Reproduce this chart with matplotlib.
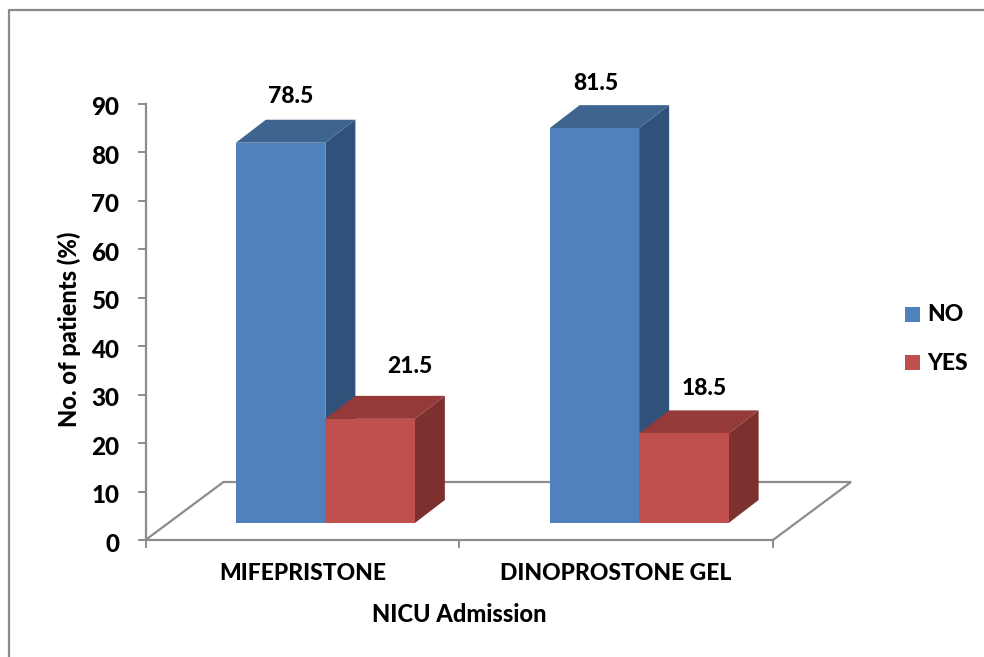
import matplotlib
matplotlib.use('Agg')
from matplotlib import pyplot as plt
from matplotlib.patches import Polygon, Rectangle
from matplotlib.lines import Line2D
from matplotlib.transforms import ScaledTranslation

plt.rcParams['font.family'] = ['Lato', 'DejaVu Sans']
plt.rcParams['font.weight'] = 900

categories = ['MIFEPRISTONE', 'DINOPROSTONE GEL']
no_values = [78.5, 81.5]
yes_values = [21.5, 18.5]
y_ticks = [0, 10, 20, 30, 40, 50, 60, 70, 80, 90]

W, H = 984, 657
AXIS_GREY = '#8c8c8c'

fig = plt.figure(figsize=(W / 100, H / 100), dpi=100, facecolor='white')

# plot area in pixels: x 145-773, y 104-540
left, right, top, bottom = 145.5, 773, 104, 540
ax = fig.add_axes([left / W, 1 - bottom / H, (right - left) / W, (bottom - top) / H])
ax.set_xlim(0, len(categories))
ax.set_ylim(0, 90)
ax.patch.set_alpha(0)

px_x = len(categories) / (right - left)  # data units per pixel
px_y = 90 / (bottom - top)

# oblique depth of the fake 3D box, and where bars sit on the floor
depth_x, depth_y = 30 * px_x, 23 * px_y
floor_x, floor_y = 78 * px_x, 58 * px_y
base_x, base_y = 23 * px_x, 17 * px_y
bar_w = 89.5 * px_x

# label shifts from the middle of each bar's front face, pixels
no_label_dx = [10, 1]
no_label_dy = [46, 45]
yes_label_dx = [39.5, 20.5]
yes_label_dy = [52, 45]


def draw_box(x0, value, front, top_face, side, z):
    # front, roof and side of one bar
    y0 = base_y
    y1 = base_y + value
    x1 = x0 + bar_w
    ax.add_patch(Polygon([(x1, y0), (x1 + depth_x, y0 + depth_y), (x1 + depth_x, y1 + depth_y), (x1, y1)],
                         closed=True, fc=side, ec='none', clip_on=False, zorder=z))
    ax.add_patch(Polygon([(x0, y1), (x0 + depth_x, y1 + depth_y), (x1 + depth_x, y1 + depth_y), (x1, y1)],
                         closed=True, fc=top_face, ec='none', clip_on=False, zorder=z))
    ax.add_patch(Rectangle((x0, y0), bar_w, value, fc=front, ec='none', clip_on=False, zorder=z + 0.5))


# floor of the box
ax.plot([0, floor_x, 2 + floor_x, 2], [0, floor_y, floor_y, 0], color=AXIS_GREY, lw=1.6,
        clip_on=False, zorder=1, solid_joinstyle='miter')

for i in range(len(categories)):
    center = i + 0.5 + base_x
    draw_box(center - bar_w, no_values[i], '#4f81bd', '#3e6490', '#30527a', 2 + i)
    draw_box(center, yes_values[i], '#c0504d', '#953a38', '#7c312f', 2 + i + 0.1)
    ax.text(center - bar_w / 2 + no_label_dx[i] * px_x, no_values[i] + base_y + no_label_dy[i] * px_y,
            '%.1f' % no_values[i], ha='center', va='center', fontsize=16.5, zorder=10)
    ax.text(center + bar_w / 2 + yes_label_dx[i] * px_x, yes_values[i] + base_y + yes_label_dy[i] * px_y,
            '%.1f' % yes_values[i], ha='center', va='center', fontsize=16.5, zorder=10)

for s in ['top', 'right']:
    ax.spines[s].set_visible(False)
for s in ['left', 'bottom']:
    ax.spines[s].set_color(AXIS_GREY)
    ax.spines[s].set_linewidth(1.6)

ax.set_yticks(y_ticks)
ax.tick_params(axis='y', direction='out', length=6, width=1.4, color=AXIS_GREY, labelsize=17.5, pad=13)
# tick numbers sit a little under their tick marks
for lab in ax.get_yticklabels():
    lab.set_transform(lab.get_transform() + ScaledTranslation(0, -2 / 100, fig.dpi_scale_trans))
ax.set_xticks(range(len(categories) + 1))
ax.set_xticklabels([])
ax.tick_params(axis='x', direction='out', length=6, width=1.4, color=AXIS_GREY)

for i, name in enumerate(categories):
    ax.annotate(name, (i + 0.5, 0), xytext=(0, -34), textcoords='offset pixels',
                ha='center', va='center', fontsize=16.5)

fig.text(459 / W, 1 - 615 / H, 'NICU Admission', ha='center', va='center', fontsize=17)
fig.text(69 / W, 1 - 329 / H, 'No. of patients (%)', ha='center', va='center', rotation=90, fontsize=17)

# legend
legend_colors = ['#4f81bd', '#c0504d']
legend_names = ['NO', 'YES']
for j in range(2):
    ly = 314 + j * 48.5
    fig.patches.append(Rectangle((905 / W, 1 - (ly + 7.5) / H), 15 / W, 15 / H, transform=fig.transFigure,
                                 fc=legend_colors[j], ec='none'))
    fig.text(927 / W, 1 - (ly + 1) / H, legend_names[j], ha='left', va='center', fontsize=16.5)

# outer frame, open on the right and bottom
fig.add_artist(Line2D([9 / W, 9 / W, 1], [0, 1 - 10 / H, 1 - 10 / H], color='#8a8a8a', lw=1.6))

fig.savefig('out.png', dpi=100)
